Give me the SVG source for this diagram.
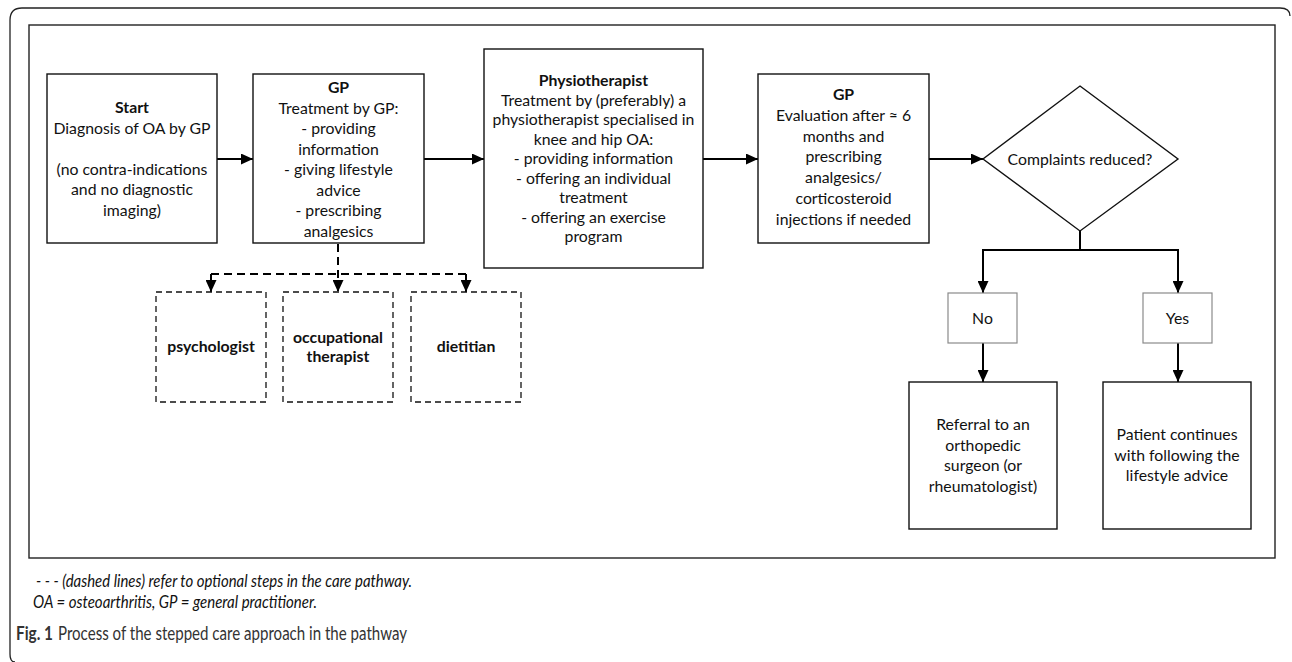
<svg xmlns="http://www.w3.org/2000/svg" width="1292" height="662" viewBox="0 0 1292 662">
<defs>
<marker id="ah" markerUnits="userSpaceOnUse" markerWidth="12" markerHeight="11" refX="12" refY="5.5" orient="auto">
<path d="M0,0 L12,5.5 L0,11 z" fill="#000"/>
</marker>
<style>
.box{fill:#fff;stroke:#111;stroke-width:1.4}
.dbox{fill:#fff;stroke:#111;stroke-width:1.3;stroke-dasharray:6 4}
.gbox{fill:#fff;stroke:#8a8a8a;stroke-width:1.2}
.t{font-family:Lato,"Liberation Sans",sans-serif;font-size:15.8px;fill:#111;text-anchor:middle}
.b{font-weight:bold}
.con{fill:none;stroke:#000;stroke-width:2}
.dash{fill:none;stroke:#000;stroke-width:2;stroke-dasharray:8 5}
.leg{font-family:Lato,"Liberation Sans",sans-serif;font-style:italic;font-size:17.5px;fill:#111}
.cap{font-family:Lato,"Liberation Sans",sans-serif;font-size:18.5px;fill:#333}
</style>
</defs>
<rect width="1292" height="662" fill="#fff"/>
<path d="M15,662 Q10,662 10,654 L10,20 Q10,8 22,8 L1280,8 Q1290,8 1290,16" fill="none" stroke="#222" stroke-width="1.3"/>
<rect x="29" y="25" width="1246" height="533" fill="none" stroke="#222" stroke-width="1.4"/>

<g id="connectors">
<line class="con" x1="217" y1="159" x2="253" y2="159" marker-end="url(#ah)"/>
<line class="con" x1="424" y1="159" x2="484" y2="159" marker-end="url(#ah)"/>
<line class="con" x1="703" y1="159" x2="758" y2="159" marker-end="url(#ah)"/>
<line class="con" x1="929" y1="159" x2="983" y2="159" marker-end="url(#ah)"/>
<path class="con" d="M1080,231 L1080,250 M983,250 L1178,250"/>
<line class="con" x1="983" y1="249" x2="983" y2="293" marker-end="url(#ah)"/>
<line class="con" x1="1178" y1="249" x2="1178" y2="293" marker-end="url(#ah)"/>
<line class="con" x1="983" y1="343" x2="983" y2="382" marker-end="url(#ah)"/>
<line class="con" x1="1178" y1="343" x2="1178" y2="382" marker-end="url(#ah)"/>
<line class="dash" x1="338" y1="244" x2="338" y2="292" marker-end="url(#ah)"/>
<line class="dash" x1="211" y1="274" x2="466" y2="274"/>
<line class="dash" x1="211" y1="274" x2="211" y2="292" stroke-dasharray="none" marker-end="url(#ah)"/>
<line class="dash" x1="466" y1="274" x2="466" y2="292" stroke-dasharray="none" marker-end="url(#ah)"/>
</g>

<g id="start">
<rect class="box" x="47" y="74" width="170" height="169"/>
<text class="t"><tspan class="b" x="132" y="113">Start</tspan><tspan x="132" y="133.5">Diagnosis of OA by GP</tspan><tspan x="132" y="174.5">(no contra-indications</tspan><tspan x="132" y="195">and no diagnostic</tspan><tspan x="132" y="215.5">imaging)</tspan></text>
</g>

<g id="gp1">
<rect class="box" x="253" y="74" width="171" height="169"/>
<text class="t"><tspan class="b" x="338.5" y="93">GP</tspan><tspan x="338.5" y="113.5">Treatment by GP:</tspan><tspan x="338.5" y="134">- providing</tspan><tspan x="338.5" y="154.5">information</tspan><tspan x="338.5" y="175">- giving lifestyle</tspan><tspan x="338.5" y="195.5">advice</tspan><tspan x="338.5" y="216">- prescribing</tspan><tspan x="338.5" y="236.5">analgesics</tspan></text>
</g>

<g id="physio">
<rect class="box" x="484" y="49" width="219" height="219"/>
<text class="t"><tspan class="b" x="593.5" y="86">Physiotherapist</tspan><tspan x="593.5" y="105.5">Treatment by (preferably) a</tspan><tspan x="593.5" y="125">physiotherapist specialised in</tspan><tspan x="593.5" y="144.5">knee and hip OA:</tspan><tspan x="593.5" y="164">- providing information</tspan><tspan x="593.5" y="183.5">- offering an individual</tspan><tspan x="593.5" y="203">treatment</tspan><tspan x="593.5" y="222.5">- offering an exercise</tspan><tspan x="593.5" y="242">program</tspan></text>
</g>

<g id="gp2">
<rect class="box" x="758" y="74" width="171" height="169"/>
<text class="t"><tspan class="b" x="843.5" y="100">GP</tspan><tspan x="843.5" y="120.8">Evaluation after ≈ 6</tspan><tspan x="843.5" y="141.6">months and</tspan><tspan x="843.5" y="162.4">prescribing</tspan><tspan x="843.5" y="183.2">analgesics/</tspan><tspan x="843.5" y="204">corticosteroid</tspan><tspan x="843.5" y="224.8">injections if needed</tspan></text>
</g>

<g id="decision">
<polygon class="box" points="1080,86 1178,159 1080,231 983,159"/>
<text class="t" x="1080" y="165">Complaints reduced?</text>
</g>

<g id="no">
<rect class="gbox" x="948" y="293" width="69" height="50"/>
<text class="t" x="982.5" y="324">No</text>
</g>
<g id="yes">
<rect class="gbox" x="1143" y="293" width="69" height="50"/>
<text class="t" x="1177.5" y="324">Yes</text>
</g>

<g id="referral">
<rect class="box" x="909" y="382" width="148" height="147"/>
<text class="t"><tspan x="983" y="430">Referral to an</tspan><tspan x="983" y="450.7">orthopedic</tspan><tspan x="983" y="471.4">surgeon (or</tspan><tspan x="983" y="492.1">rheumatologist)</tspan></text>
</g>

<g id="continue">
<rect class="box" x="1103" y="382" width="148" height="147"/>
<text class="t"><tspan x="1177" y="440">Patient continues</tspan><tspan x="1177" y="460.5">with following the</tspan><tspan x="1177" y="481">lifestyle advice</tspan></text>
</g>

<g id="psychologist">
<rect class="dbox" x="156" y="292" width="110" height="110"/>
<text class="t b" x="211" y="352">psychologist</text>
</g>
<g id="occupational">
<rect class="dbox" x="283" y="292" width="110" height="110"/>
<text class="t b"><tspan x="338" y="343">occupational</tspan><tspan x="338" y="362">therapist</tspan></text>
</g>
<g id="dietitian">
<rect class="dbox" x="411" y="292" width="110" height="110"/>
<text class="t b" x="466" y="352">dietitian</text>
</g>

<g id="legend">
<text class="leg" x="36" y="587" textLength="376" lengthAdjust="spacingAndGlyphs">- - -  (dashed lines) refer to optional steps in the care pathway.</text>
<text class="leg" x="33" y="608" textLength="284" lengthAdjust="spacingAndGlyphs">OA = osteoarthritis, GP = general practitioner.</text>
<text class="cap" x="16" y="640" font-weight="bold" fill="#111" textLength="37" lengthAdjust="spacingAndGlyphs">Fig. 1</text>
<text class="cap" x="58" y="640" textLength="349" lengthAdjust="spacingAndGlyphs">Process of the stepped care approach in the pathway</text>
</g>
</svg>
